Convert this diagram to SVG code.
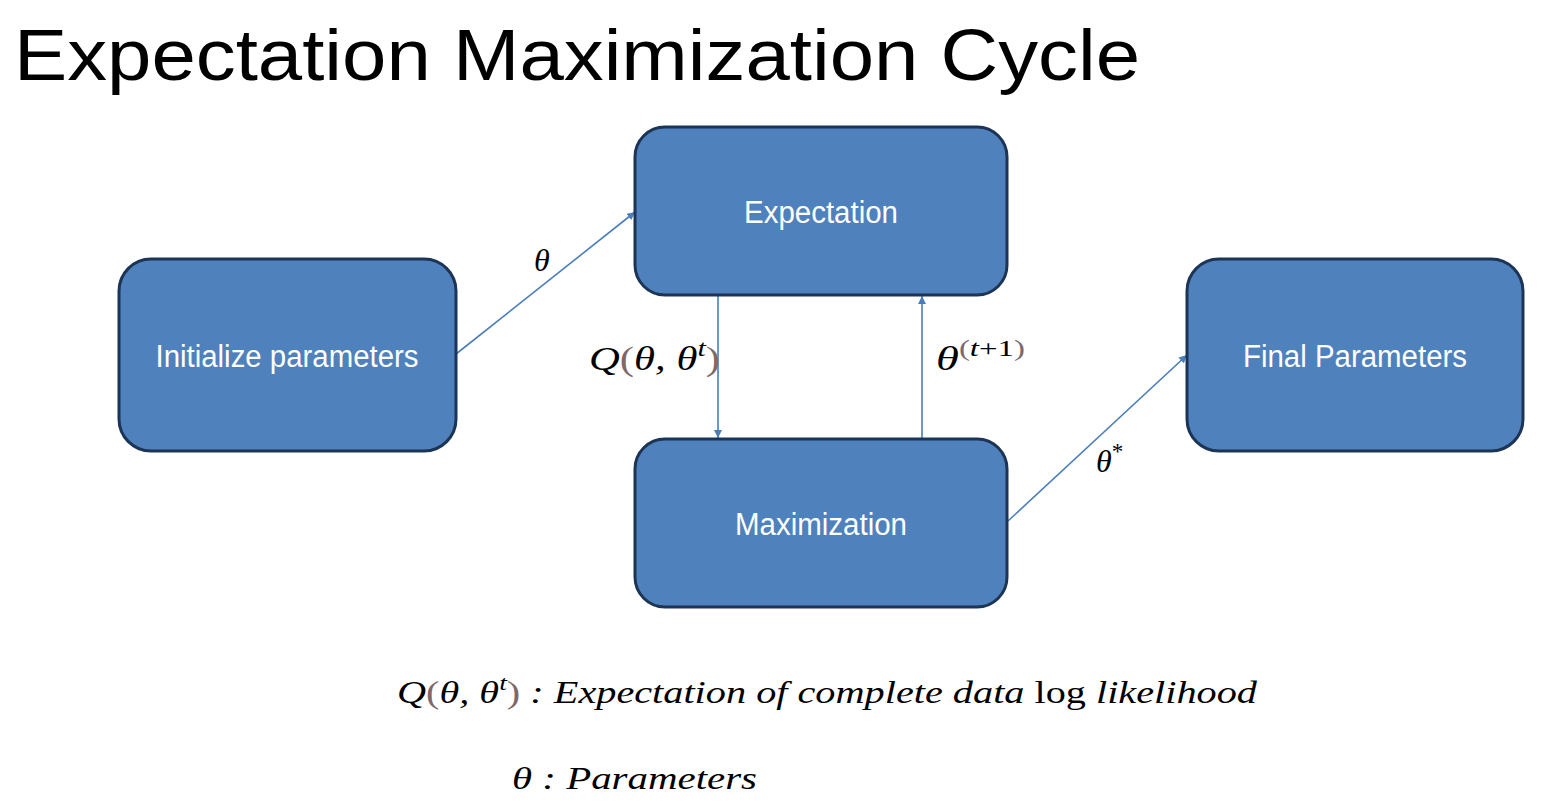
<svg xmlns="http://www.w3.org/2000/svg" width="1560" height="808" viewBox="0 0 1560 808">
<defs>
<style>
.box{fill:#4F81BD;stroke:#1C3556;stroke-width:3}
.lbl{font-family:"Liberation Sans Narrow","Liberation Sans",Arial,sans-serif;font-size:31px;fill:#fff;text-anchor:middle}
.m{font-family:"Liberation Serif","DejaVu Serif",serif;font-style:italic;fill:#000}
.p{fill:#7F6868;font-style:normal}
.con{stroke:#4A7EBB;stroke-width:1.6;fill:none}
</style>
<marker id="ah" viewBox="0 0 10 10" refX="10" refY="5" markerWidth="8" markerHeight="8" markerUnits="userSpaceOnUse" orient="auto"><path d="M0,0 L10,5 L0,10 z" fill="#4A7EBB"/></marker>
</defs>
<rect width="1560" height="808" fill="#fff"/>
<text x="14" y="80" font-family="Liberation Sans,Arial,sans-serif" font-size="73" fill="#000" textLength="1126" lengthAdjust="spacingAndGlyphs">Expectation Maximization Cycle</text>
<g id="connectors">
<line class="con" x1="456" y1="354" x2="635" y2="212" marker-end="url(#ah)"/>
<line class="con" x1="718" y1="295" x2="718" y2="438" marker-end="url(#ah)"/>
<line class="con" x1="922" y1="439" x2="922" y2="296" marker-end="url(#ah)"/>
<line class="con" x1="1008" y1="521" x2="1187" y2="355" marker-end="url(#ah)"/>
</g>
<g id="n-init"><rect class="box" x="119" y="259" width="337" height="192" rx="32"/><text class="lbl" x="287" y="367" textLength="263" lengthAdjust="spacingAndGlyphs">Initialize parameters</text></g>
<g id="n-exp"><rect class="box" x="635" y="127" width="372" height="168" rx="30"/><text class="lbl" x="821" y="223" textLength="154" lengthAdjust="spacingAndGlyphs">Expectation</text></g>
<g id="n-max"><rect class="box" x="635" y="439" width="372" height="168" rx="30"/><text class="lbl" x="821" y="535" textLength="172" lengthAdjust="spacingAndGlyphs">Maximization</text></g>
<g id="n-final"><rect class="box" x="1187" y="259" width="336" height="192" rx="32"/><text class="lbl" x="1355" y="367" textLength="224" lengthAdjust="spacingAndGlyphs">Final Parameters</text></g>
<g id="labels">
<text class="m" x="534" y="271" font-size="32">θ</text>
<text class="m" x="589" y="370" font-size="34" textLength="131" lengthAdjust="spacingAndGlyphs">Q<tspan class="p">(</tspan>θ, θ<tspan font-size="24" dy="-14">t</tspan><tspan class="p" dy="14">)</tspan></text>
<text class="m" x="936" y="370" font-size="34" textLength="89" lengthAdjust="spacingAndGlyphs">θ<tspan font-size="24" dy="-14" font-style="normal"><tspan class="p">(</tspan><tspan font-style="italic">t</tspan>+1<tspan class="p">)</tspan></tspan></text>
<text class="m" x="1096" y="472" font-size="32">θ<tspan font-size="23" dy="-13" font-style="normal">*</tspan></text>
<text class="m" x="397" y="703" font-size="32" textLength="860" lengthAdjust="spacingAndGlyphs">Q<tspan class="p">(</tspan>θ, θ<tspan font-size="22" dy="-13">t</tspan><tspan class="p" dy="13">)</tspan> : Expectation of  complete data <tspan font-style="normal">log</tspan> likelihood</text>
<text class="m" x="512" y="789" font-size="32" textLength="245" lengthAdjust="spacingAndGlyphs">θ : Parameters</text>
</g>
</svg>
